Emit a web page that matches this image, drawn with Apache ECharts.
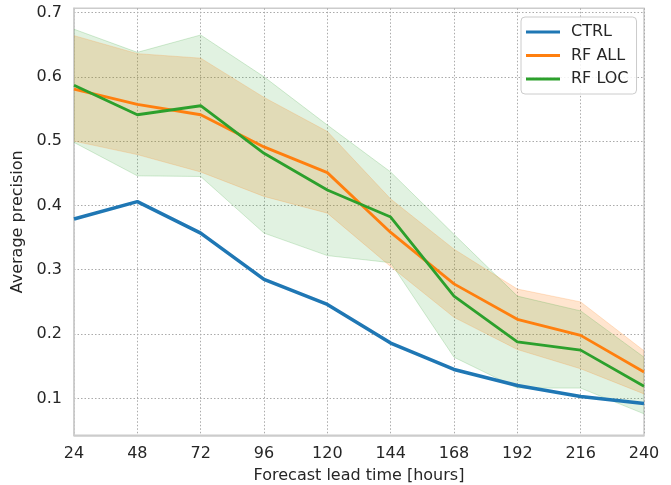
<!DOCTYPE html>
<html>
<head>
<meta charset="utf-8">
<script src="https://cdn.jsdelivr.net/npm/echarts@6/dist/echarts.min.js"></script>
<style>html,body{margin:0;padding:0;background:#fff}#c{width:671px;height:485px}</style>
</head>
<body>
<div id="c"></div>
<script>
const leadTimes = [24, 48, 72, 96, 120, 144, 168, 192, 216, 240];
const ctrl = [0.379, 0.406, 0.357, 0.285, 0.246, 0.186, 0.145, 0.120, 0.103, 0.092];
const rfAll = [0.581, 0.557, 0.541, 0.491, 0.451, 0.358, 0.278, 0.223, 0.198, 0.141];
const rfAllLow = [0.500, 0.479, 0.452, 0.414, 0.388, 0.305, 0.226, 0.176, 0.146, 0.107];
const rfAllHigh = [0.664, 0.636, 0.629, 0.568, 0.515, 0.410, 0.332, 0.270, 0.250, 0.174];
const rfLoc = [0.587, 0.541, 0.555, 0.481, 0.424, 0.382, 0.259, 0.188, 0.175, 0.119];
const rfLocLow = [0.498, 0.446, 0.445, 0.357, 0.322, 0.311, 0.164, 0.116, 0.116, 0.076];
const rfLocHigh = [0.674, 0.638, 0.665, 0.600, 0.525, 0.452, 0.355, 0.259, 0.236, 0.164];
const yTicks = [0.1, 0.2, 0.3, 0.4, 0.5, 0.6, 0.7];

const BLUE = '#1f77b4', ORANGE = '#ff7f0e', GREEN = '#2ca02c';
const pts = arr => leadTimes.map((x, i) => [x, arr[i]]);

function band(name, lo, hi, color, alpha) {
  const data = leadTimes.map((x, i) => [x, lo[i], hi[i]]);
  return [
    { name: name, type: 'custom', data: data, silent: true, z: 1,
      encode: { x: 0, y: [1, 2] },
      renderItem: function (params, api) {
        if (params.dataIndex !== 0) return null;
        const upper = data.map(d => api.coord([d[0], d[2]]));
        const lower = data.map(d => api.coord([d[0], d[1]])).reverse();
        return { type: 'polygon', shape: { points: upper.concat(lower) },
          style: { fill: color, opacity: alpha, stroke: null } };
      } },
    { name: name + ' lo', type: 'line', data: pts(lo), symbol: 'none', silent: true, z: 2,
      lineStyle: { width: 1, color: color, opacity: 0.2 } },
    { name: name + ' hi', type: 'line', data: pts(hi), symbol: 'none', silent: true, z: 2,
      lineStyle: { width: 1, color: color, opacity: 0.2 } }
  ];
}

const chart = echarts.init(document.getElementById('c'), null, { renderer: 'canvas' });
const font = 'DejaVu Sans';
chart.setOption({
  animation: false,
  backgroundColor: '#fff',
  textStyle: { fontFamily: font },
  grid: { left: 74, right: 27, top: 8.3, bottom: 49.7, show: true, borderColor: '#cccccc', borderWidth: 1.5,
    containLabel: false, outerBoundsMode: 'none' },
  legend: {
    data: ['CTRL', 'RF ALL', 'RF LOC'],
    left: 521, top: 17, orient: 'vertical',
    icon: 'rect', itemWidth: 34, itemHeight: 3, itemGap: 7.5,
    padding: [7, 8, 7, 5],
    backgroundColor: 'rgba(255,255,255,0.85)', borderColor: '#cccccc', borderWidth: 1, borderRadius: 4,
    textStyle: { fontFamily: font, fontSize: 16, color: '#262626', padding: [0, 0, 0, 6] }
  },
  xAxis: {
    type: 'value', min: 24, max: 240, interval: 24,
    name: 'Forecast lead time [hours]', nameLocation: 'middle', nameGap: 33,
    nameTextStyle: { fontFamily: font, fontSize: 16, color: '#262626' },
    axisLine: { show: true, lineStyle: { color: '#cccccc', width: 1.5 } },
    axisTick: { show: false },
    axisLabel: { fontFamily: font, fontSize: 16, color: '#262626', margin: 11 },
    splitLine: { show: true, lineStyle: { color: '#aaaaaa', type: [1.5, 2], width: 1 } }
  },
  yAxis: {
    type: 'value', min: 0.0426, max: 0.7065,
    name: 'Average precision', nameLocation: 'middle', nameGap: 41,
    nameTextStyle: { fontFamily: font, fontSize: 16, color: '#262626' },
    axisLine: { show: true, lineStyle: { color: '#cccccc', width: 1.5 } },
    axisTick: { show: false, customValues: yTicks },
    axisLabel: { fontFamily: font, fontSize: 16, color: '#262626', margin: 12, customValues: yTicks,
      formatter: v => (+v).toFixed(1) },
    splitLine: { show: true, lineStyle: { color: '#aaaaaa', type: [1.5, 2], width: 1 } }
  },
  series: [
    ...band('RF ALL band', rfAllLow, rfAllHigh, ORANGE, 0.2),
    ...band('RF LOC band', rfLocLow, rfLocHigh, GREEN, 0.14),
    { name: 'CTRL', type: 'line', data: pts(ctrl), symbol: 'none', color: BLUE, lineStyle: { width: 3.5, color: BLUE }, z: 5 },
    { name: 'RF ALL', type: 'line', data: pts(rfAll), symbol: 'none', color: ORANGE, lineStyle: { width: 2.8, color: ORANGE }, z: 5 },
    { name: 'RF LOC', type: 'line', data: pts(rfLoc), symbol: 'none', color: GREEN, lineStyle: { width: 2.8, color: GREEN }, z: 5 }
  ]
});
</script>
</body>
</html>
